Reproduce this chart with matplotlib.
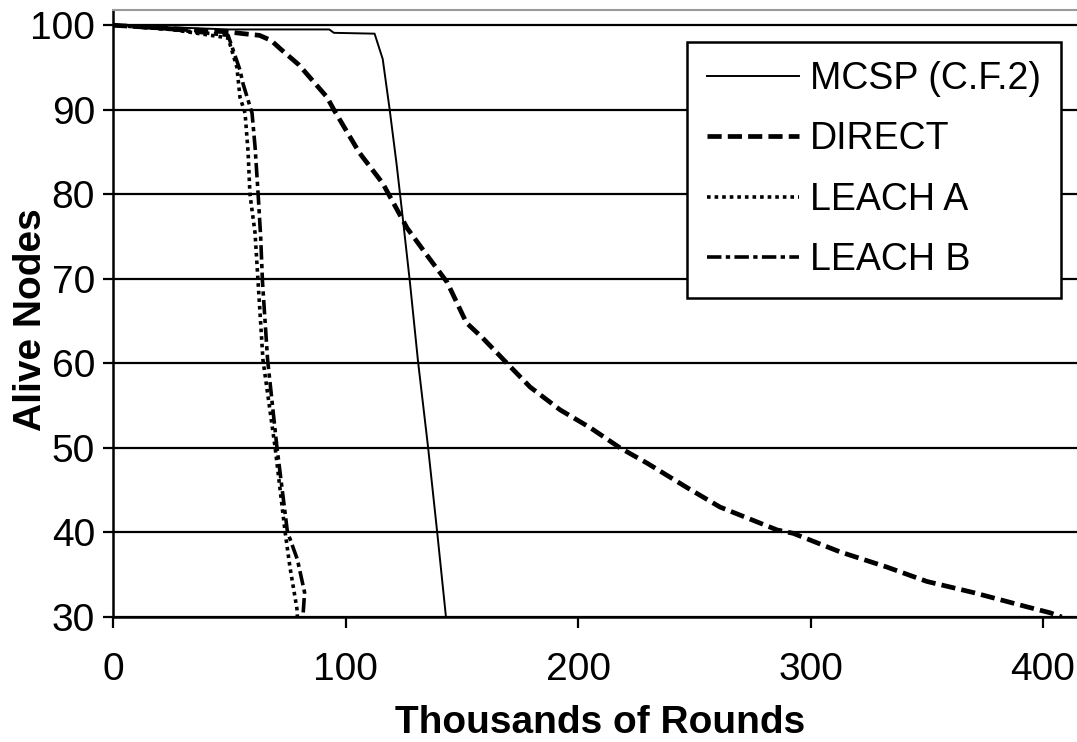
import matplotlib
matplotlib.use("Agg")
import matplotlib.pyplot as plt

# (x in thousands of rounds, y alive nodes)
mcsp_x = [0, 50, 93, 95, 112.5, 116, 119, 122, 124.5, 127.7, 131.2, 135.5, 139.4, 143.2]
mcsp_y = [100, 99.5, 99.5, 99.1, 99.0, 96, 90, 83.5, 77.5, 69.6, 60.2, 50.1, 40.1, 30]

direct_x = [0, 25, 50, 56, 63, 68, 72, 80, 92, 95, 106, 116, 126.5, 135, 143.7, 152,
            159, 169.5, 179.4, 192.3, 205.2, 218.1, 229.7, 246.9, 261.1, 285.6,
            292.5, 312.7, 332.9, 350.1, 369.9, 393.1, 403, 408]
direct_y = [100, 99.6, 99.2, 99.0, 98.8, 98.2, 97.2, 95.3, 91.5, 90, 84.9, 81.3, 76, 72.8,
            69.6, 64.8, 63, 60, 57.2, 54.5, 52.4, 50, 48.2, 45.3, 43, 40.3, 39.9,
            37.7, 35.9, 34.2, 32.9, 31.2, 30.5, 30]

leach_a_x = [0, 25, 49.5, 53.3, 54.6, 56.8, 58.1, 58.9, 61.1, 62.4, 64.5, 69.7,
             74.0, 76.1, 79.1, 79.3]
leach_a_y = [100, 99.5, 98.5, 95, 91.5, 89.6, 85, 80, 75.4, 69.6, 60.4, 50.1,
             40.1, 35.9, 31, 30]

leach_b_x = [0, 25, 49.5, 54.6, 55.9, 59.8, 61.1, 62.4, 63.5, 64.3, 66.5, 70.5,
             75, 79.3, 82.4, 81.8]
leach_b_y = [100, 99.5, 98.8, 94.7, 93.1, 89.6, 85.6, 80.1, 75, 69.6, 60.4, 50.1,
             40.1, 36.8, 32.9, 30.5]

x_ticks = [0, 100, 200, 300, 400]
y_ticks = [30, 40, 50, 60, 70, 80, 90, 100]

plt.rcParams["font.family"] = ["Liberation Sans", "DejaVu Sans"]

fig = plt.figure(figsize=(10.77, 7.42), dpi=100)
ax = fig.add_axes([113 / 1077, 125 / 742, 964 / 1077, 607 / 742])

ax.plot(mcsp_x, mcsp_y, color="black", lw=1.4, label="MCSP (C.F.2)")
ax.plot(direct_x, direct_y, color="black", lw=3.4, dashes=(3.0, 1.3), label="DIRECT")
ax.plot(leach_a_x, leach_a_y, color="black", lw=2.6, dashes=(1.0, 1.1), label="LEACH A")
ax.plot(leach_b_x, leach_b_y, color="black", lw=2.6, dashes=(4, 1.2, 1.2, 1.2), label="LEACH B")

ax.set_xlim(0, 414.6)
ax.set_ylim(30, 101.8)
ax.set_xticks(x_ticks)
ax.set_yticks(y_ticks)
ax.yaxis.grid(True, color="black", lw=1.6)
ax.set_axisbelow(True)

ax.spines["right"].set_visible(False)
ax.spines["top"].set_color("#9a9a9a")
ax.spines["top"].set_linewidth(1.5)
ax.spines["left"].set_linewidth(1.8)
ax.spines["bottom"].set_linewidth(1.8)

ax.tick_params(axis="x", direction="out", length=8, width=1.6, pad=17, labelsize=28)
ax.tick_params(axis="y", direction="out", length=7, width=1.6, pad=6, labelsize=28)

ax.set_xlabel("Thousands of Rounds", fontsize=28, fontweight="bold")
ax.set_ylabel("Alive Nodes", fontsize=28, fontweight="bold")
ax.xaxis.set_label_coords(0.505, -0.145)
ax.yaxis.set_label_coords(-0.066, 0.49)

leg = ax.legend(loc="upper right", bbox_to_anchor=(0.983, 0.948), borderaxespad=0,
                fontsize=27, frameon=True, fancybox=False, handlelength=2.45,
                handletextpad=0.3, labelspacing=0.65, borderpad=0.52)
leg.get_frame().set_edgecolor("black")
leg.get_frame().set_linewidth(1.8)
leg.get_frame().set_alpha(1)

fig.savefig("out.png", dpi=100)
